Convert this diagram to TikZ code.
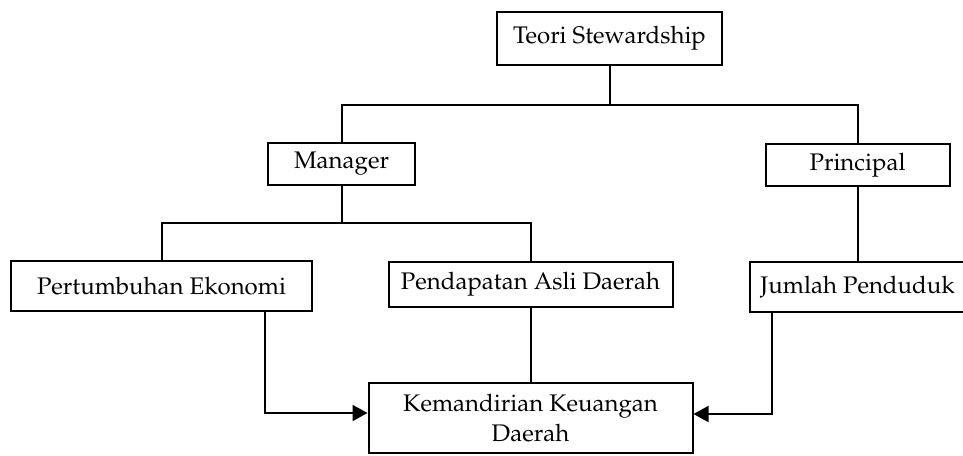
\documentclass[tikz,border=0pt]{standalone}
\usepackage[T1]{fontenc}
\usepackage{mathpazo}
\usetikzlibrary{arrows.meta}
\begin{document}
\begin{tikzpicture}[x=0.5pt,y=-0.5pt,
  box/.style={draw=black,line width=1pt,inner sep=0pt,align=center,
    font=\fontsize{12}{15}\selectfont},
  conn/.style={draw=black,line width=1pt},
  arr/.style={conn,-{Triangle[length=7.5pt,width=8pt]}}]
\useasboundingbox (0,0) rectangle (963,455);
\node[box,minimum width=112.5pt,minimum height=26.5pt] (teori) at (609.5,38.5) {Teori Stewardship};
\node[box,minimum width=73.5pt,minimum height=21pt] (manager) at (341.5,164) {Manager};
\node[box,minimum width=92pt,minimum height=21pt] (principal) at (857.5,165) {Principal};
\node[box,minimum width=150.5pt,minimum height=25pt] (pertumbuhan) at (161.5,286) {Pertumbuhan Ekonomi};
\node[box,minimum width=142pt,minimum height=22.5pt] (pendapatan) at (530.5,284.5) {Pendapatan Asli Daerah};
\node[box,minimum width=108pt,minimum height=25pt] (jumlah) at (857.5,287) {Jumlah Penduduk};
\node[box,minimum width=162pt,minimum height=35pt] (kemandirian) at (530.5,418) {Kemandirian Keuangan\\Daerah};
\coordinate (j1) at (609.5,105);
\coordinate (j2) at (341.5,223);
\coordinate (a1) at (265,413);
\coordinate (a2) at (772,414);
\draw[conn] (teori) -- (j1);
\draw[conn] (manager.north) |- (j1) -| (principal.north);
\draw[conn] (manager) -- (j2);
\draw[conn] (pertumbuhan.north) |- (j2) -| (pendapatan.north);
\draw[conn] (principal) -- (jumlah);
\draw[conn] (pendapatan) -- (kemandirian);
\draw[arr] (pertumbuhan.south -| a1) |- (kemandirian.west |- a1);
\draw[arr] (jumlah.south -| a2) |- (kemandirian.east |- a2);
\end{tikzpicture}
\end{document}
